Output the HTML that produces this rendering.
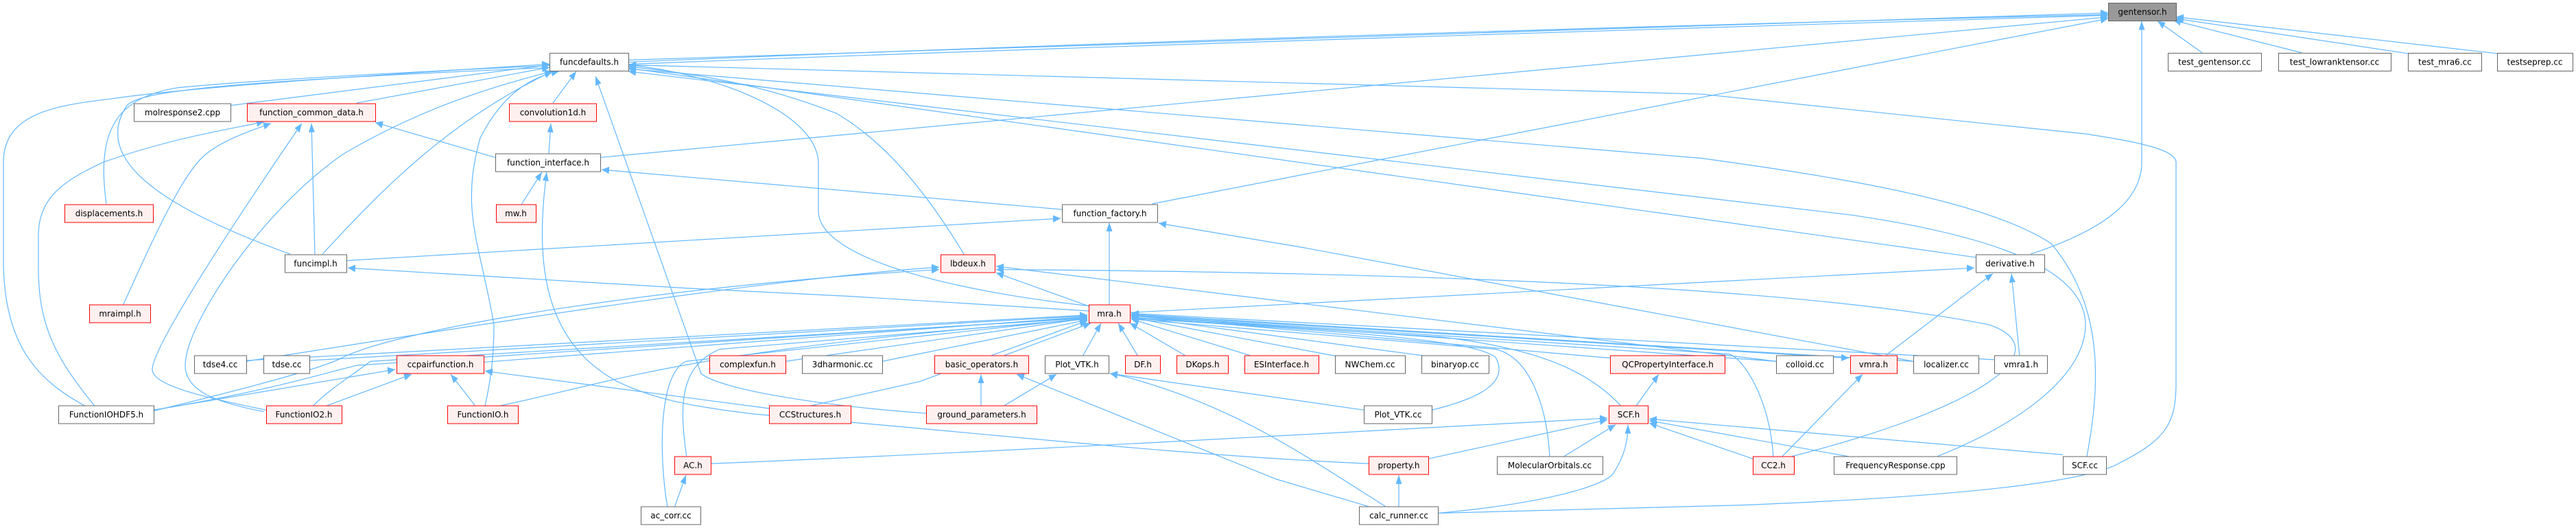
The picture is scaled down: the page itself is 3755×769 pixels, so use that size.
<!DOCTYPE html>
<html><head><meta charset="utf-8"><style>
html,body{margin:0;padding:0;background:#fff;}
svg{display:block;}
text{font-family:"DejaVu Sans","Liberation Sans",sans-serif;font-size:12px;fill:#000;text-anchor:middle;}
.e{fill:none;stroke:#63b8ff;stroke-width:1.2;marker-end:url(#a);vector-effect:non-scaling-stroke;}
.n{fill:#fff;stroke:#666;stroke-width:1;}
.r{fill:#fff0f0;stroke:#ff0000;stroke-width:1;}
.g{fill:#999;stroke:#666;stroke-width:1;}
</style></head><body>
<svg width="3755" height="769" viewBox="0 0 3755 769" xmlns="http://www.w3.org/2000/svg">
<defs><marker id="a" markerUnits="userSpaceOnUse" markerWidth="12" markerHeight="10" refX="11" refY="4.5" orient="auto"><path d="M0,0 L11,4.5 L0,9 z" fill="#63b8ff"/></marker></defs>
<g transform="matrix(1,0,0,1.1829,0,-0.15)">
<path class="e" d="M916,74 L3073,16"/>
<path class="e" d="M155,251 C140,160 170,120 260,108 C600,80 2000,40 3073,18"/>
<path class="e" d="M423,313 C250,260 130,200 185,130 C220,100 500,85 3073,19"/>
<path class="e" d="M875,194 L3073,21"/>
<path class="e" d="M1680,251 L3073,23"/>
<path class="e" d="M2960,313 C3060,285 3122,250 3122,200 L3122,26"/>
<path class="e" d="M3210,65 L3145,26"/>
<path class="e" d="M3355,65 L3168,25"/>
<path class="e" d="M3510,66 L3172,23"/>
<path class="e" d="M3640,66 L3172,21"/>
<path class="e" d="M806,127 L840,88"/>
<path class="e" d="M336,130 L801,80"/>
<path class="e" d="M520,127 L801,83"/>
<path class="e" d="M470,313 C550,240 650,150 805,88"/>
<path class="e" d="M124,500 C60,470 5,430 5,320 L5,200 C5,140 80,130 160,122 C300,105 600,90 801,79"/>
<path class="e" d="M138,500 C80,440 56,400 56,330 L56,290 C56,240 100,220 150,200 C250,170 330,160 385,150"/>
<path class="e" d="M385,507 C310,495 270,480 270,450 C270,400 380,260 500,190 C600,140 700,110 805,88"/>
<path class="e" d="M388,505 C300,490 222,475 222,455 C222,430 320,300 440,152"/>
<path class="e" d="M707,500 C715,470 720,440 720,400 C700,300 670,260 700,170 C730,120 770,95 815,88"/>
<path class="e" d="M1405,313 C1360,250 1300,180 1220,140 C1100,100 1000,90 916,82"/>
<path class="e" d="M1350,509 C1200,500 1050,480 1022,460 L868,94"/>
<path class="e" d="M1590,377 C1400,360 1193,320 1193,260 L1193,200 C1190,140 1050,92 916,80"/>
<path class="e" d="M2880,317 L916,84"/>
<path class="e" d="M3042,562 C3060,480 3070,380 2990,300 C2900,250 2700,220 2480,195 L916,85"/>
<path class="e" d="M2824,562 C2950,520 3040,460 3040,400 C3040,330 2900,290 2700,265 L916,88"/>
<path class="e" d="M2096,632 L2540,622 C2900,610 3050,590 3090,570 C3160,540 3172,520 3172,470 L3172,200 C3172,185 3120,175 3040,165 L2480,116 L916,80"/>
<path class="e" d="M722,194 L547,151"/>
<path class="e" d="M459,313 L454,152"/>
<path class="e" d="M180,375 C230,280 270,210 300,190 C330,170 370,160 395,152"/>
<path class="e" d="M800,189 L803,152"/>
<path class="e" d="M760,252 L790,212"/>
<path class="e" d="M1995,571 C1700,560 1400,530 1100,510 C1000,500 950,490 900,470 C790,420 780,320 797,212"/>
<path class="e" d="M1548,258 L877,209"/>
<path class="e" d="M505,321 L1546,269"/>
<path class="e" d="M1587,383 L1240,365 L1002,355 L507,330"/>
<path class="e" d="M2789,445 C2700,430 2500,400 1900,305 L1689,275"/>
<path class="e" d="M1617,375 L1617,274"/>
<path class="e" d="M1590,378 L1452,336"/>
<path class="e" d="M359,445 C700,400 1100,345 1369,329"/>
<path class="e" d="M224,506 C400,470 480,450 500,440 C600,400 1000,350 1369,332"/>
<path class="e" d="M2589,445 L1452,328"/>
<path class="e" d="M2612,562 C2900,500 3000,430 2900,400 C2600,350 2000,335 1452,332"/>
<path class="e" d="M705,446 L1585,390"/>
<path class="e" d="M359,444 L1585,388"/>
<path class="e" d="M451,444 L1585,389"/>
<path class="e" d="M224,505 C400,480 470,460 520,450 L1585,391"/>
<path class="e" d="M456,500 C480,480 500,470 540,445 L1585,392"/>
<path class="e" d="M727,500 C900,470 1000,430 1585,393"/>
<path class="e" d="M1145,445 L1585,392"/>
<path class="e" d="M1286,445 L1585,394"/>
<path class="e" d="M1180,500 L1340,470 L1585,395"/>
<path class="e" d="M1001,563 C990,500 990,450 1050,430 L1585,393"/>
<path class="e" d="M973,625 C960,560 960,460 1000,445 L1585,392"/>
<path class="e" d="M1460,439 L1590,398"/>
<path class="e" d="M1578,439 L1605,398"/>
<path class="e" d="M1659,439 L1630,398"/>
<path class="e" d="M1730,439 L1647,398"/>
<path class="e" d="M1827,439 L1649,393"/>
<path class="e" d="M1950,439 L1649,391"/>
<path class="e" d="M2083,439 L1649,390"/>
<path class="e" d="M2347,441 L1649,389"/>
<path class="e" d="M2087,505 C2160,490 2200,470 2180,440 C2150,420 2000,410 1649,392"/>
<path class="e" d="M2364,501 C2320,460 2250,430 2100,415 L1649,391"/>
<path class="e" d="M2259,563 C2255,500 2230,440 2180,430 L1649,393"/>
<path class="e" d="M2589,445 L1649,389"/>
<path class="e" d="M1647,388 L2695,441"/>
<path class="e" d="M2789,445 L1649,387"/>
<path class="e" d="M2907,443 L1649,386"/>
<path class="e" d="M2585,563 C2580,490 2540,440 2520,436 L1649,389"/>
<path class="e" d="M1647,385 L2878,330"/>
<path class="e" d="M2000,625 L1860,590 L1482,461"/>
<path class="e" d="M2022,625 C1900,560 1800,500 1640,464 L1618,460"/>
<path class="e" d="M1463,500 L1540,461"/>
<path class="e" d="M1988,505 L1618,460"/>
<path class="e" d="M1430,500 L1430,461"/>
<path class="e" d="M224,505 L576,455"/>
<path class="e" d="M475,500 L600,461"/>
<path class="e" d="M693,500 L657,461"/>
<path class="e" d="M1121,503 L707,457"/>
<path class="e" d="M2384,501 L2418,461"/>
<path class="e" d="M1036,571 C1500,555 2000,530 2343,515"/>
<path class="e" d="M2082,565 L2343,517"/>
<path class="e" d="M2278,563 L2355,523"/>
<path class="e" d="M2096,632 C2250,620 2330,600 2350,585 C2370,560 2373,540 2373,523"/>
<path class="e" d="M2555,565 L2404,521"/>
<path class="e" d="M2700,563 L2404,518"/>
<path class="e" d="M3007,560 L2404,516"/>
<path class="e" d="M2039,625 L2039,585"/>
<path class="e" d="M983,625 L1000,585"/>
<path class="e" d="M2597,563 L2715,461"/>
<path class="e" d="M2747,439 L2905,337"/>
<path class="e" d="M2944,439 L2932,337"/>
</g>
<g>
<rect class="g" x="3073.5" y="4.5" width="99" height="26"/><text x="3123" y="21.5">gentensor.h</text>
<rect class="n" x="801.5" y="77.5" width="115" height="26"/><text x="859" y="94.5">funcdefaults.h</text>
<rect class="n" x="3160.5" y="77.5" width="136" height="26"/><text x="3228" y="94.5">test_gentensor.cc</text>
<rect class="n" x="3321.5" y="77.5" width="164" height="26"/><text x="3403" y="94.5">test_lowranktensor.cc</text>
<rect class="n" x="3510.5" y="77.5" width="107" height="26"/><text x="3564" y="94.5">test_mra6.cc</text>
<rect class="n" x="3640.5" y="77.5" width="110" height="26"/><text x="3695" y="94.5">testseprep.cc</text>
<rect class="n" x="195.5" y="151" width="141" height="26"/><text x="266" y="168">molresponse2.cpp</text>
<rect class="r" x="360.5" y="151" width="187" height="26"/><text x="454" y="168">function_common_data.h</text>
<rect class="r" x="742.5" y="151" width="127" height="26"/><text x="806" y="168">convolution1d.h</text>
<rect class="n" x="722.5" y="224" width="153" height="26"/><text x="799" y="241">function_interface.h</text>
<rect class="r" x="94.5" y="298" width="129" height="26"/><text x="159" y="315">displacements.h</text>
<rect class="r" x="723.5" y="298" width="58" height="26"/><text x="752" y="315">mw.h</text>
<rect class="n" x="1548.5" y="298" width="139" height="26"/><text x="1618" y="315">function_factory.h</text>
<rect class="n" x="415.5" y="371" width="90" height="26"/><text x="460" y="388">funcimpl.h</text>
<rect class="r" x="1371.5" y="371" width="79" height="26"/><text x="1411" y="388">lbdeux.h</text>
<rect class="n" x="2880.5" y="371" width="100" height="26"/><text x="2930" y="388">derivative.h</text>
<rect class="r" x="130.5" y="444" width="89" height="26"/><text x="175" y="461">mraimpl.h</text>
<rect class="r" x="1587.5" y="444" width="60" height="26"/><text x="1617" y="461">mra.h</text>
<rect class="n" x="283.5" y="518" width="76" height="26"/><text x="321" y="535">tdse4.cc</text>
<rect class="n" x="384.5" y="518" width="67" height="26"/><text x="418" y="535">tdse.cc</text>
<rect class="r" x="578.5" y="518" width="127" height="26"/><text x="642" y="535">ccpairfunction.h</text>
<rect class="r" x="1034.5" y="518" width="111" height="26"/><text x="1090" y="535">complexfun.h</text>
<rect class="n" x="1169.5" y="518" width="117" height="26"/><text x="1228" y="535">3dharmonic.cc</text>
<rect class="r" x="1362.5" y="518" width="137" height="26"/><text x="1431" y="535">basic_operators.h</text>
<rect class="n" x="1523.5" y="518" width="93" height="26"/><text x="1570" y="535">Plot_VTK.h</text>
<rect class="r" x="1640.5" y="518" width="51" height="26"/><text x="1666" y="535">DF.h</text>
<rect class="r" x="1715.5" y="518" width="75" height="26"/><text x="1753" y="535">DKops.h</text>
<rect class="r" x="1814.5" y="518" width="108" height="26"/><text x="1868" y="535">ESInterface.h</text>
<rect class="n" x="1946.5" y="518" width="102" height="26"/><text x="1997" y="535">NWChem.cc</text>
<rect class="n" x="2072.5" y="518" width="98" height="26"/><text x="2121" y="535">binaryop.cc</text>
<rect class="r" x="2347.5" y="518" width="167" height="26"/><text x="2431" y="535">QCPropertyInterface.h</text>
<rect class="n" x="2589.5" y="518" width="83" height="26"/><text x="2631" y="535">colloid.cc</text>
<rect class="r" x="2697.5" y="518" width="68" height="26"/><text x="2731" y="535">vmra.h</text>
<rect class="n" x="2789.5" y="518" width="95" height="26"/><text x="2837" y="535">localizer.cc</text>
<rect class="n" x="2907.5" y="518" width="77" height="26"/><text x="2946" y="535">vmra1.h</text>
<rect class="n" x="85.5" y="591" width="139" height="26"/><text x="155" y="608">FunctionIOHDF5.h</text>
<rect class="r" x="388.5" y="591" width="110" height="26"/><text x="443" y="608">FunctionIO2.h</text>
<rect class="r" x="652.5" y="591" width="103" height="26"/><text x="704" y="608">FunctionIO.h</text>
<rect class="r" x="1121.5" y="591" width="119" height="26"/><text x="1181" y="608">CCStructures.h</text>
<rect class="r" x="1350.5" y="591" width="161" height="26"/><text x="1431" y="608">ground_parameters.h</text>
<rect class="n" x="1988.5" y="591" width="99" height="26"/><text x="2038" y="608">Plot_VTK.cc</text>
<rect class="r" x="2345.5" y="591" width="57" height="26"/><text x="2374" y="608">SCF.h</text>
<rect class="r" x="983.5" y="665" width="53" height="26"/><text x="1010" y="682">AC.h</text>
<rect class="r" x="1995.5" y="665" width="87" height="26"/><text x="2039" y="682">property.h</text>
<rect class="n" x="2182.5" y="665" width="154" height="26"/><text x="2259" y="682">MolecularOrbitals.cc</text>
<rect class="r" x="2555.5" y="665" width="60" height="26"/><text x="2585" y="682">CC2.h</text>
<rect class="n" x="2673.5" y="665" width="179" height="26"/><text x="2763" y="682">FrequencyResponse.cpp</text>
<rect class="n" x="3007.5" y="665" width="63" height="26"/><text x="3039" y="682">SCF.cc</text>
<rect class="n" x="934.5" y="738" width="87" height="26"/><text x="978" y="755">ac_corr.cc</text>
<rect class="n" x="1981.5" y="738" width="115" height="26"/><text x="2039" y="755">calc_runner.cc</text>
</g>
</svg>
</body></html>
